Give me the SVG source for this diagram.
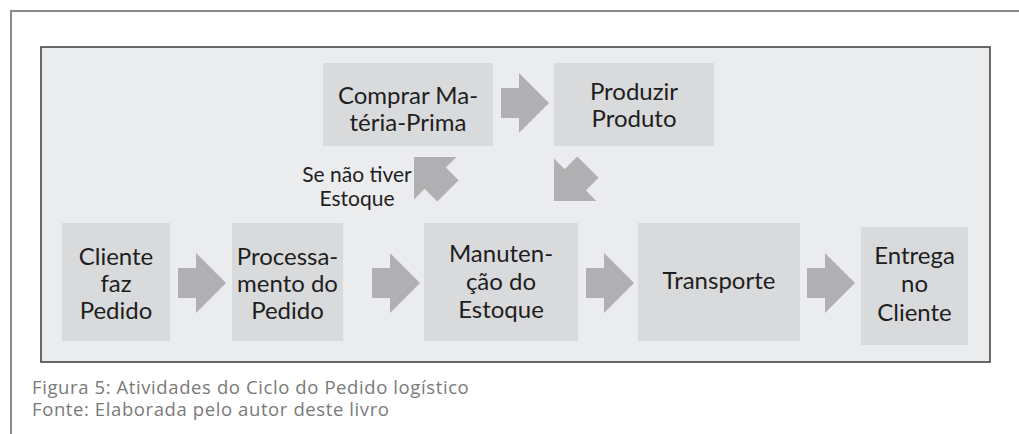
<svg xmlns="http://www.w3.org/2000/svg" width="1019" height="434" viewBox="0 0 1019 434">
<style>
.box{fill:#d9dadc}
.arr{fill:#b0b0b2}
.t{font-family:Lato,"Open Sans",sans-serif;font-size:24px;fill:#1e1e1e;text-anchor:middle}
.s{font-family:Lato,"Open Sans",sans-serif;font-size:21px;fill:#1e1e1e;text-anchor:middle}
.cap{font-family:"Open Sans",Lato,sans-serif;font-size:18.5px;letter-spacing:0.6px;fill:#7a7a7a}
</style>
<defs>
<polygon id="ar" points="0,0 -30,-30 -30,-15 -48,-15 -48,15 -30,15 -30,30"/>
</defs>
<rect x="0" y="0" width="1019" height="434" fill="#ffffff"/>
<path d="M11,434 V11 H1019" fill="none" stroke="#8a8a8a" stroke-width="2"/>
<rect x="41" y="47" width="949" height="315" fill="#ebecee" stroke="#3a3a3a" stroke-width="1.5"/>

<g id="connectors" class="arr">
<use href="#ar" transform="translate(549,103)"/>
<use href="#ar" transform="translate(414,157) rotate(225)"/>
<use href="#ar" transform="translate(554,201) rotate(135)"/>
<use href="#ar" transform="translate(226,283)"/>
<use href="#ar" transform="translate(420,283)"/>
<use href="#ar" transform="translate(634,283)"/>
<use href="#ar" transform="translate(855,283)"/>
</g>

<g id="comprar">
<rect class="box" x="323" y="63" width="170" height="83"/>
<text class="t" x="408" y="104">Comprar Ma-</text>
<text class="t" x="408" y="131">téria-Prima</text>
</g>
<g id="produzir">
<rect class="box" x="554" y="63" width="160" height="83"/>
<text class="t" x="634" y="100">Produzir</text>
<text class="t" x="634" y="127">Produto</text>
</g>
<g id="label-estoque">
<text class="s" x="357" y="182">Se não tiver</text>
<text class="s" x="357" y="206">Estoque</text>
</g>
<g id="cliente">
<rect class="box" x="62" y="223" width="108" height="118"/>
<text class="t" x="116" y="265">Cliente</text>
<text class="t" x="116" y="292">faz</text>
<text class="t" x="116" y="319">Pedido</text>
</g>
<g id="processamento">
<rect class="box" x="232" y="223" width="111" height="118"/>
<text class="t" x="287.5" y="265">Processa-</text>
<text class="t" x="287.5" y="292">mento do</text>
<text class="t" x="287.5" y="319">Pedido</text>
</g>
<g id="manutencao">
<rect class="box" x="424" y="223" width="154" height="118"/>
<text class="t" x="501" y="262">Manuten-</text>
<text class="t" x="501" y="290">ção do</text>
<text class="t" x="501" y="318">Estoque</text>
</g>
<g id="transporte">
<rect class="box" x="638" y="223" width="162" height="118"/>
<text class="t" x="719" y="289">Transporte</text>
</g>
<g id="entrega">
<rect class="box" x="861" y="227" width="107" height="118"/>
<text class="t" x="914.5" y="264">Entrega</text>
<text class="t" x="914.5" y="292">no</text>
<text class="t" x="914.5" y="321">Cliente</text>
</g>

<g id="caption">
<text class="cap" x="32" y="394">Figura 5: Atividades do Ciclo do Pedido logístico</text>
<text class="cap" x="32" y="416">Fonte: Elaborada pelo autor deste livro</text>
</g>
</svg>
